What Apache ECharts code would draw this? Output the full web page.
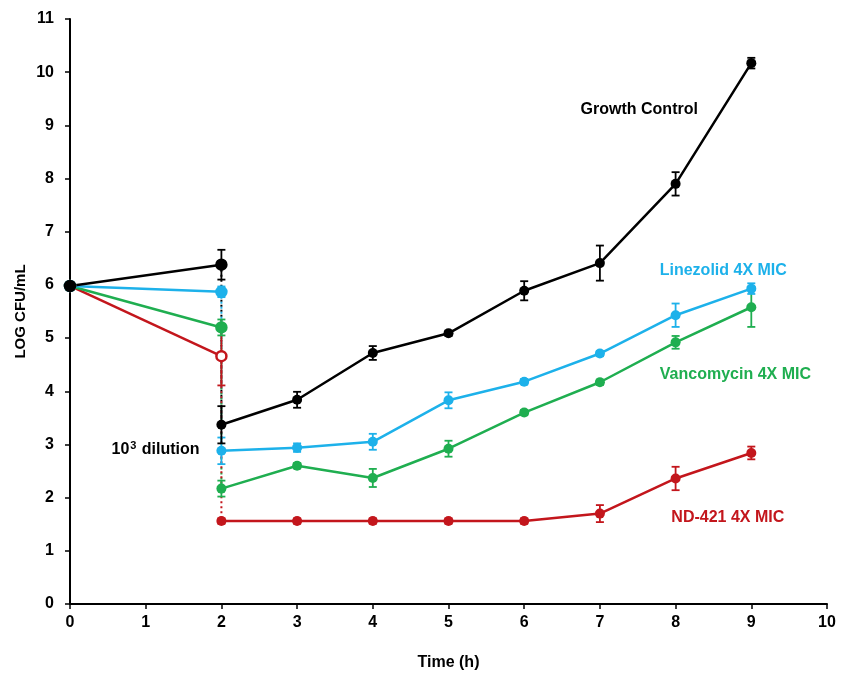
<!DOCTYPE html>
<html><head><meta charset="utf-8">
<script src="https://cdn.jsdelivr.net/npm/echarts@6/dist/echarts.min.js"></script>
<style>html,body{margin:0;padding:0;background:#fff}#c{width:844px;height:675px}</style>
</head><body><div id="c"></div>
<script>
const xTicks = [0,1,2,3,4,5,6,7,8,9,10];
const yTicks = [0,1,2,3,4,5,6,7,8,9,10,11];
const preTimes = [0, 2];
const postTimes = [2, 3, 4, 5, 6, 7, 8, 9];
const seriesNames = ['Growth Control', 'Linezolid 4X MIC', 'Vancomycin 4X MIC', 'ND-421 4X MIC'];
const colors = ['#000000', '#1db1ea', '#1fae50', '#c3161c'];
const preValues = [
  [5.98, 6.38],
  [5.98, 5.87],
  [5.98, 5.20],
  [5.98, 4.66]
];
const preErrors = [
  [0.04, 0.28],
  [0.04, 0.10],
  [0.04, 0.15],
  [0.04, 0.55]
];
const postValues = [
  [3.37, 3.84, 4.72, 5.09, 5.89, 6.41, 7.90, 10.17],
  [2.88, 2.94, 3.05, 3.83, 4.18, 4.71, 5.43, 5.93],
  [2.17, 2.60, 2.37, 2.92, 3.60, 4.17, 4.92, 5.58],
  [1.56, 1.56, 1.56, 1.56, 1.56, 1.70, 2.36, 2.84]
];
const postErrors = [
  [0.35, 0.15, 0.13, 0.05, 0.18, 0.33, 0.22, 0.10],
  [0.25, 0.08, 0.15, 0.15, 0.05, 0.05, 0.22, 0.10],
  [0.15, 0.05, 0.17, 0.15, 0.05, 0.05, 0.12, 0.37],
  [0.05, 0.05, 0.05, 0.05, 0.05, 0.16, 0.22, 0.12]
];
const labelTexts = ['Growth Control', 'Linezolid 4X MIC', 'Vancomycin 4X MIC', 'ND-421 4X MIC'];
const labelPos = [[7.52, 9.3], [8.63, 6.27], [8.79, 4.32], [8.69, 1.63]];
const dilutionText = '10{sup|3} dilution';
const dilutionPos = [1.13, 2.9];

const chart = echarts.init(document.getElementById('c'));
const font = 'Arial, "Liberation Sans", sans-serif';
const series = [];

function errSeries(times, vals, errs, color) {
  return {
    type: 'custom', silent: true, z: 3,
    data: times.map((t, i) => [t, vals[i], errs[i]]),
    renderItem: function (params, api) {
      const x = api.value(0), y = api.value(1), e = api.value(2);
      const top = api.coord([x, y + e]);
      const bot = api.coord([x, y - e]);
      const w = 4;
      const st = { stroke: color, lineWidth: 1.8 };
      return { type: 'group', children: [
        { type: 'line', shape: { x1: top[0], y1: top[1], x2: bot[0], y2: bot[1] }, style: st },
        { type: 'line', shape: { x1: top[0]-w, y1: top[1], x2: top[0]+w, y2: top[1] }, style: st },
        { type: 'line', shape: { x1: bot[0]-w, y1: bot[1], x2: bot[0]+w, y2: bot[1] }, style: st }
      ]};
    }
  };
}

for (let s = 0; s < 4; s++) {
  series.push({
    type: 'line', silent: true, z: 1, symbol: 'none',
    data: [[2, preValues[s][1]], [2, postValues[s][0]]],
    lineStyle: { color: colors[s], width: 2, type: [2, 3] }
  });
}
for (let s = 3; s >= 0; s--) {
  series.push(errSeries(preTimes, preValues[s], preErrors[s], colors[s]));
  series.push(errSeries(postTimes, postValues[s], postErrors[s], colors[s]));
  series.push({
    name: seriesNames[s], type: 'line', z: 4, silent: true,
    data: preTimes.map((t, i) => [t, preValues[s][i]]),
    symbol: 'circle', symbolSize: 10, showAllSymbol: true,
    lineStyle: { color: colors[s], width: 2.5 },
    itemStyle: { color: (s === 3) ? '#ffffff' : colors[s], borderColor: colors[s], borderWidth: 2.5 }
  });
  series.push({
    name: seriesNames[s], type: 'line', z: 4, silent: true,
    data: postTimes.map((t, i) => [t, postValues[s][i]]),
    symbol: 'circle', symbolSize: 10, showAllSymbol: true,
    lineStyle: { color: colors[s], width: 2.5 },
    itemStyle: { color: colors[s] }
  });
}

chart.setOption({
  animation: false,
  backgroundColor: '#ffffff',
  grid: { left: 70, right: 17, top: 19, bottom: 71, containLabel: false, outerBoundsMode: 'none' },
  xAxis: {
    type: 'value', min: xTicks[0], max: xTicks[xTicks.length-1], interval: 1,
    name: 'Time (h)', nameLocation: 'middle', nameGap: 51, nameMoveOverlap: false,
    nameTextStyle: { fontFamily: font, fontWeight: 'bold', fontSize: 16, color: '#000' },
    axisLine: { lineStyle: { color: '#000', width: 2 } },
    axisTick: { show: true, inside: false, length: 5, lineStyle: { color: '#000', width: 1.5 } },
    axisLabel: { fontFamily: font, fontWeight: 'bold', fontSize: 16, color: '#000', margin: 11,
      formatter: v => xTicks.includes(v) ? String(v) : '' },
    splitLine: { show: false }
  },
  yAxis: {
    type: 'value', min: yTicks[0], max: yTicks[yTicks.length-1], interval: 1,
    name: 'LOG CFU/mL', nameLocation: 'middle', nameGap: 42, nameRotate: 90, nameMoveOverlap: false,
    nameTextStyle: { fontFamily: font, fontWeight: 'bold', fontSize: 15, color: '#000' },
    axisLine: { show: true, lineStyle: { color: '#000', width: 2 } },
    axisTick: { show: true, inside: false, length: 5, lineStyle: { color: '#000', width: 1.5 } },
    axisLabel: { fontFamily: font, fontWeight: 'bold', fontSize: 16, color: '#000', margin: 16,
      formatter: v => yTicks.includes(v) ? String(v) : '' },
    splitLine: { show: false }
  },
  series: series
});

const graphics = [];
for (let s = 0; s < 4; s++) {
  const p = chart.convertToPixel({ gridIndex: 0 }, labelPos[s]);
  graphics.push({ type: 'text', x: p[0], y: p[1], z: 10, silent: true,
    style: { text: labelTexts[s], fill: colors[s], font: 'bold 16px ' + font, align: 'center', verticalAlign: 'middle' } });
}
const dp = chart.convertToPixel({ gridIndex: 0 }, dilutionPos);
graphics.push({ type: 'text', x: dp[0], y: dp[1], z: 10, silent: true,
  style: { text: dilutionText, fill: '#000', font: 'bold 16px ' + font, align: 'center', verticalAlign: 'middle',
    rich: { sup: { font: 'bold 11px ' + font, fill: '#000', verticalAlign: 'top', padding: [0, 1, 7, 1] } } } });
chart.setOption({ graphic: graphics });
</script></body></html>
